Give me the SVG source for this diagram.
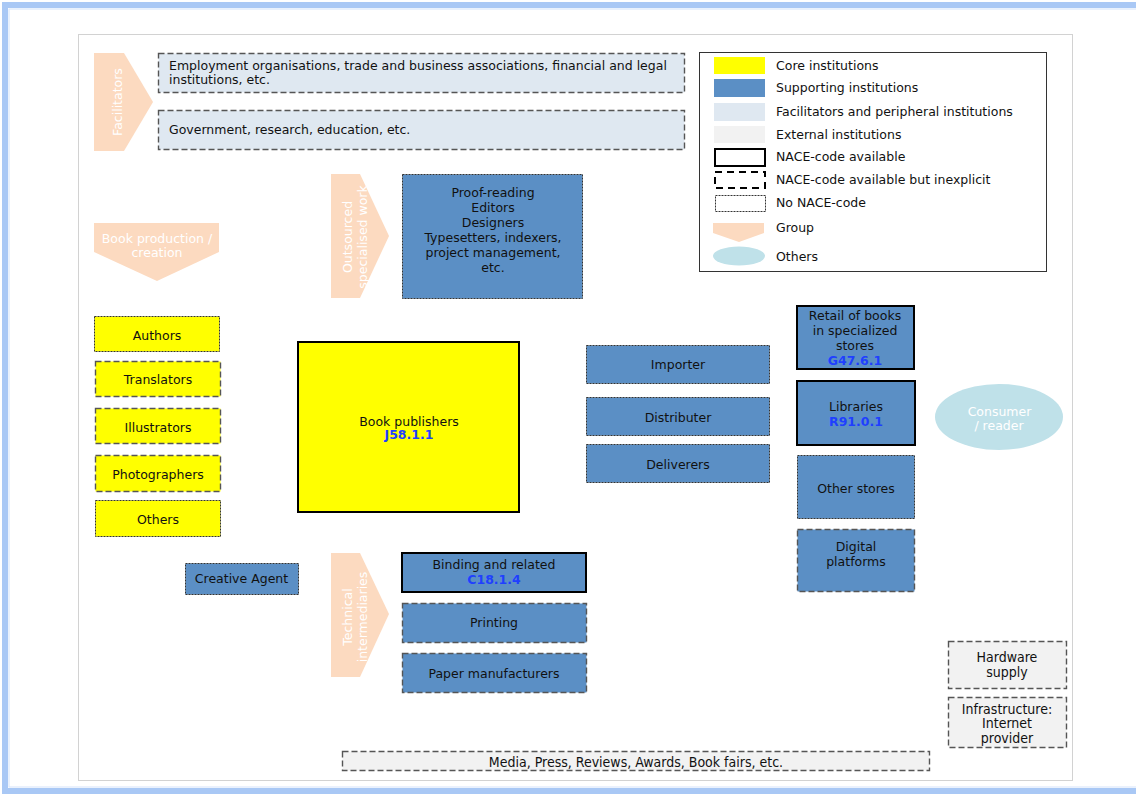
<svg xmlns="http://www.w3.org/2000/svg" width="1136" height="794" viewBox="0 0 1136 794">
<style>
text{font-family:"DejaVu Sans","Liberation Sans",sans-serif;font-size:12.5px;fill:#111;}
.c{text-anchor:middle;}
.w{fill:#fff;}
.code{fill:#1f3fff;font-weight:bold;}
.cond{font-family:"DejaVu Sans Condensed","DejaVu Sans",sans-serif;font-stretch:condensed;font-size:14px;}
.core{fill:#ffff00;}
.sup{fill:#5b8fc5;}
.fac{fill:#dfe8f1;}
.ext{fill:#f2f2f2;}
.solid{stroke:#000;stroke-width:2;}
.dash{stroke:#555;stroke-width:1.4;stroke-dasharray:6 3;}
.dot{stroke:#333;stroke-width:1;stroke-dasharray:2 1;}
.grp{fill:#fcdac0;}
.oth{fill:#bfe1e9;}
</style>
<rect x="0" y="0" width="1136" height="794" fill="#fff"/>
<rect x="5" y="5" width="1140" height="786" fill="none" stroke="#a9c8f5" stroke-width="6"/>
<rect x="9" y="9" width="1135" height="778" fill="none" stroke="#d4e3fb" stroke-width="1"/>
<rect x="78.5" y="34.5" width="994" height="746" fill="#fff" stroke="#d2d2d2" stroke-width="1"/>

<g id="connectors"/>

<g id="facilitators-group">
<polygon class="grp" points="94,53 124,53 153,102 124,151 94,151"/>
<text class="c w" transform="translate(117,102) rotate(-90)" y="4.5">Facilitators</text>
</g>
<g id="employment-orgs">
<rect class="fac dash" x="158.5" y="53.5" width="526" height="39"/>
<text x="169" y="70">Employment organisations, trade and business associations, financial and legal</text>
<text x="169" y="84">institutions, etc.</text>
</g>
<g id="government">
<rect class="fac dash" x="158.5" y="110.5" width="526" height="39"/>
<text x="169" y="134">Government, research, education, etc.</text>
</g>

<g id="legend">
<rect x="699.5" y="52.5" width="347" height="219" fill="#fff" stroke="#333" stroke-width="1"/>
<rect class="core" x="714" y="57" width="51" height="17"/>
<text x="776" y="69.5">Core institutions</text>
<rect class="sup" x="714" y="79" width="51" height="18"/>
<text x="776" y="92">Supporting institutions</text>
<rect class="fac" x="714" y="103" width="51" height="18"/>
<text x="776" y="116">Facilitators and peripheral institutions</text>
<rect class="ext" x="714" y="126" width="51" height="17"/>
<text x="776" y="139">External institutions</text>
<rect x="715" y="149" width="50" height="17" fill="#fff" class="solid"/>
<text x="776" y="160.5">NACE-code available</text>
<rect x="715" y="172" width="50" height="16" fill="#fff" stroke="#000" stroke-width="2" stroke-dasharray="7 5"/>
<text x="776" y="184">NACE-code available but inexplicit</text>
<rect x="715.5" y="195.5" width="50" height="16" fill="#fff" class="dot"/>
<text x="776" y="207">No NACE-code</text>
<polygon class="grp" points="713,223 764,223 764,233 739,242 713,233"/>
<text x="776" y="232">Group</text>
<ellipse class="oth" cx="739" cy="256" rx="26" ry="9.5"/>
<text x="776" y="261">Others</text>
</g>

<g id="book-production-group">
<polygon class="grp" points="94,223 219,223 219,252 157,281 94,252"/>
<text class="c w" x="157" y="242.5">Book production /</text>
<text class="c w" x="157" y="256.5">creation</text>
</g>

<g id="outsourced-group">
<polygon class="grp" points="331,174 360,174 389,236 360,298 331,298"/>
<text class="c w" transform="translate(354.5,237) rotate(-90)"><tspan x="0" y="-3">Outsourced</tspan><tspan x="0" y="12">specialised work</tspan></text>
</g>
<g id="outsourced-work">
<rect class="sup dot" x="402.5" y="174.5" width="180" height="124"/>
<text class="c" x="493" y="196.5">Proof-reading</text>
<text class="c" x="493" y="211.5">Editors</text>
<text class="c" x="493" y="226.5">Designers</text>
<text class="c" x="493" y="241.5">Typesetters, indexers,</text>
<text class="c" x="493" y="256.5">project management,</text>
<text class="c" x="493" y="271.5">etc.</text>
</g>

<g id="authors">
<rect class="core dot" x="94.5" y="316.5" width="125" height="35"/>
<text class="c" x="157" y="339.5">Authors</text>
</g>
<g id="translators">
<rect class="core dash" x="95.5" y="361.5" width="125" height="35"/>
<text class="c" x="158" y="383.5">Translators</text>
</g>
<g id="illustrators">
<rect class="core dash" x="95.5" y="408.5" width="125" height="35"/>
<text class="c" x="158" y="431.5">Illustrators</text>
</g>
<g id="photographers">
<rect class="core dash" x="95.5" y="455.5" width="125" height="36"/>
<text class="c" x="158" y="478.5">Photographers</text>
</g>
<g id="others-creators">
<rect class="core dot" x="95.5" y="500.5" width="125" height="36"/>
<text class="c" x="158" y="523.5">Others</text>
</g>

<g id="book-publishers">
<rect class="core solid" x="298" y="342" width="221" height="170"/>
<text class="c" x="409" y="425.5">Book publishers</text>
<text class="c code" x="409" y="439">J58.1.1</text>
</g>

<g id="importer">
<rect class="sup dot" x="586.5" y="345.5" width="183" height="38"/>
<text class="c" x="678" y="368.5">Importer</text>
</g>
<g id="distributer">
<rect class="sup dot" x="586.5" y="397.5" width="183" height="38"/>
<text class="c" x="678" y="421.5">Distributer</text>
</g>
<g id="deliverers">
<rect class="sup dot" x="586.5" y="444.5" width="183" height="38"/>
<text class="c" x="678" y="468.5">Deliverers</text>
</g>

<g id="retail">
<rect class="sup solid" x="797" y="306" width="117" height="63"/>
<text class="c" x="855" y="319.5">Retail of books</text>
<text class="c" x="855" y="334.5">in specialized</text>
<text class="c" x="855" y="349.5">stores</text>
<text class="c code" x="855" y="364.5">G47.6.1</text>
</g>
<g id="libraries">
<rect class="sup solid" x="797" y="381" width="118" height="64"/>
<text class="c" x="856" y="410.5">Libraries</text>
<text class="c code" x="856" y="425.5">R91.0.1</text>
</g>
<g id="other-stores">
<rect class="sup dot" x="797.5" y="455.5" width="117" height="63"/>
<text class="c" x="856" y="492.5">Other stores</text>
</g>
<g id="digital-platforms">
<rect class="sup dash" x="797.5" y="529.5" width="117" height="62"/>
<text class="c" x="856" y="550.5">Digital</text>
<text class="c" x="856" y="565.5">platforms</text>
</g>

<g id="consumer">
<ellipse class="oth" cx="999" cy="417" rx="64" ry="33"/>
<text class="c w" x="999.5" y="415.5">Consumer</text>
<text class="c w" x="999" y="429.5">/ reader</text>
</g>

<g id="creative-agent">
<rect class="sup dot" x="185.5" y="563.5" width="113" height="31"/>
<text class="c" x="241.5" y="582.5">Creative Agent</text>
</g>

<g id="technical-group">
<polygon class="grp" points="331,553 360,553 389,614 360,677 331,677"/>
<text class="c w" transform="translate(354.5,617) rotate(-90)"><tspan x="0" y="-3">Technical</tspan><tspan x="0" y="12">intermediaries</tspan></text>
</g>
<g id="binding">
<rect class="sup solid" x="402" y="553" width="184" height="39"/>
<text class="c" x="494" y="568.5">Binding and related</text>
<text class="c code" x="494" y="583.5">C18.1.4</text>
</g>
<g id="printing">
<rect class="sup dash" x="402.5" y="603.5" width="184" height="39"/>
<text class="c" x="494" y="626.5">Printing</text>
</g>
<g id="paper">
<rect class="sup dash" x="402.5" y="653.5" width="184" height="39"/>
<text class="c" x="494" y="677.5">Paper manufacturers</text>
</g>

<g id="hardware">
<rect class="ext dash" x="948.5" y="641.5" width="118" height="47"/>
<text class="c cond" x="1007" y="662">Hardware</text>
<text class="c cond" x="1007" y="676.5">supply</text>
</g>
<g id="infrastructure">
<rect class="ext dash" x="948.5" y="697.5" width="118" height="50"/>
<text class="c cond" x="1007" y="713.5">Infrastructure:</text>
<text class="c cond" x="1007" y="728">Internet</text>
<text class="c cond" x="1007" y="743">provider</text>
</g>
<g id="media">
<rect class="ext dash" x="342.5" y="751.5" width="587" height="19"/>
<text class="c cond" x="636" y="766.5">Media, Press, Reviews, Awards, Book fairs, etc.</text>
</g>
</svg>
